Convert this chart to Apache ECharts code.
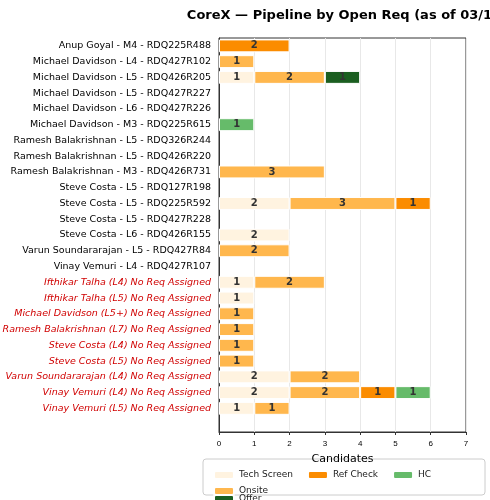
<!DOCTYPE html><html><head><meta charset="utf-8"><script src="https://cdn.jsdelivr.net/npm/echarts@6/dist/echarts.min.js"></script></head><body style="margin:0"><div id="c" style="width:490px;height:500px"></div><script>
const categories=["Anup Goyal - M4 - RDQ225R488","Michael Davidson - L4 - RDQ427R102","Michael Davidson - L5 - RDQ426R205","Michael Davidson - L5 - RDQ427R227","Michael Davidson - L6 - RDQ427R226","Michael Davidson - M3 - RDQ225R615","Ramesh Balakrishnan - L5 - RDQ326R244","Ramesh Balakrishnan - L5 - RDQ426R220","Ramesh Balakrishnan - M3 - RDQ426R731","Steve Costa - L5 - RDQ127R198","Steve Costa - L5 - RDQ225R592","Steve Costa - L5 - RDQ427R228","Steve Costa - L6 - RDQ426R155","Varun Soundararajan - L5 - RDQ427R84","Vinay Vemuri - L4 - RDQ427R107","Ifthikar Talha (L4) No Req Assigned","Ifthikar Talha (L5) No Req Assigned","Michael Davidson (L5+) No Req Assigned","Ramesh Balakrishnan (L7) No Req Assigned","Steve Costa (L4) No Req Assigned","Steve Costa (L5) No Req Assigned","Varun Soundararajan (L4) No Req Assigned","Vinay Vemuri (L4) No Req Assigned","Vinay Vemuri (L5) No Req Assigned"];
const techScreen=[0,0,1,0,0,0,0,0,0,0,2,0,2,0,0,1,1,0,0,0,0,2,2,1];
const onsite=[0,1,2,0,0,0,0,0,3,0,3,0,0,2,0,2,0,1,1,1,1,2,2,1];
const refCheck=[2,0,0,0,0,0,0,0,0,0,1,0,0,0,0,0,0,0,0,0,0,0,1,0];
const hc=[0,0,0,0,0,1,0,0,0,0,0,0,0,0,0,0,0,0,0,0,0,0,1,0];
const offer=[0,0,1,0,0,0,0,0,0,0,0,0,0,0,0,0,0,0,0,0,0,0,0,0];
const xTicks=[0,1,2,3,4,5,6,7];
const cats=categories.concat(['']);
const pad=a=>a.map(v=>v||null).concat([null]);
function s(name,data,color){return {name,type:'bar',stack:'a',data:pad(data),barWidth:'82%',itemStyle:{color,borderColor:'#fff',borderWidth:1},label:{show:true,color:'#333',fontWeight:'bold',fontSize:10,fontFamily:'DejaVu Sans'}};}
const ch=echarts.init(document.getElementById('c'));
ch.setOption({animation:false,
title:{text:'CoreX — Pipeline by Open Req (as of 03/16)',left:342,top:4,textAlign:'center',textStyle:{fontSize:13,fontWeight:'bold',color:'#000',fontFamily:'DejaVu Sans'}},
grid:{left:219,right:24,top:38,bottom:68,show:true,borderColor:'#333',borderWidth:1,outerBoundsMode:'none',containLabel:false},
xAxis:{type:'value',min:0,max:7,interval:1,name:'Candidates',nameLocation:'middle',nameGap:22,nameTextStyle:{fontSize:11,color:'#000',fontFamily:'DejaVu Sans'},axisLine:{show:true,lineStyle:{color:'#333'}},axisTick:{show:true,length:3},axisLabel:{fontSize:8,color:'#000',formatter:v=>xTicks.includes(v)?v:''},splitLine:{show:true,lineStyle:{color:'#e8e8e8'}}},
yAxis:{type:'category',inverse:true,data:cats,axisLine:{lineStyle:{color:'#333'}},axisTick:{alignWithLabel:true,length:3,interval:i=>i<categories.length},axisLabel:{interval:0,fontSize:9.5,fontFamily:'DejaVu Sans',formatter:v=>v.includes('No Req')?'{r|'+v+'}':v,color:'#000',rich:{r:{color:'#d00000',fontStyle:'italic',fontSize:9.5,fontFamily:'DejaVu Sans'}}},splitLine:{show:false}},
graphic:[{type:'rect',shape:{x:203,y:459,width:282,height:36,r:3},style:{fill:'#fff',stroke:'#ccc',lineWidth:1},z:-1}],
legend:[{data:['Tech Screen','Ref Check','HC','Offer'],left:208,top:465,itemWidth:20,itemHeight:8,itemGap:14,textStyle:{fontSize:9,color:'#222',fontFamily:'DejaVu Sans'}},{data:['Onsite'],left:208,top:481,itemWidth:20,itemHeight:8,textStyle:{fontSize:9,color:'#222',fontFamily:'DejaVu Sans'}}],
series:[s('Tech Screen',techScreen,'#fff3e0'),s('Onsite',onsite,'#ffb74d'),s('Ref Check',refCheck,'#fb8c00'),s('HC',hc,'#66bb6a'),s('Offer',offer,'#1b5e20')]});
</script></body></html>
